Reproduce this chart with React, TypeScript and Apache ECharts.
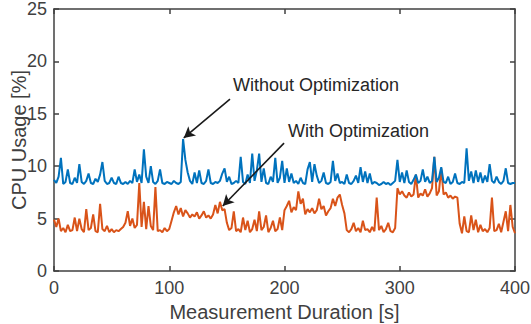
import React, { useEffect, useRef } from "react";
import * as echarts from "echarts";

const STEP_S = 2;

const withoutOpt: number[] = [
  8.7, 8.4, 9.0, 10.8, 8.3, 8.5, 9.7, 8.4, 8.3, 8.9,
  8.4, 10.2, 8.5, 8.3, 8.6, 9.3, 8.4, 8.3, 8.8, 8.5,
  9.2, 10.4, 8.6, 8.3, 8.4, 8.9, 8.4, 8.3, 9.0, 8.4,
  8.3, 8.5, 8.3, 8.6, 8.4, 9.7, 8.5, 9.2, 8.4, 11.6,
  9.0, 8.4, 10.0, 8.5, 8.3, 8.6, 9.7, 8.4, 8.3, 8.5,
  8.4, 8.3, 8.6, 8.4, 8.3, 8.5, 12.6, 10.6, 9.4, 8.6,
  8.3, 9.4, 8.4, 9.6, 8.4, 8.3, 8.6, 9.7, 8.4, 8.3,
  8.5, 8.4, 8.6, 9.3, 9.8, 8.5, 9.0, 8.3, 8.4, 8.6,
  8.4, 10.9, 8.5, 8.3, 9.2, 8.4, 11.2, 8.6, 9.6, 11.2,
  8.5, 9.8, 8.4, 8.3, 9.0, 8.5, 10.8, 8.4, 8.9, 10.5,
  8.4, 9.8, 8.5, 9.3, 8.4, 8.6, 8.3, 8.9, 8.4, 8.3,
  9.7, 10.4, 8.5, 10.2, 9.1, 8.4, 8.6, 9.4, 8.4, 8.3,
  8.5, 10.5, 8.6, 9.3, 8.4, 8.5, 8.3, 9.2, 8.4, 8.3,
  8.6, 9.1, 8.4, 9.9, 8.5, 9.5, 8.4, 9.3, 8.3, 8.5,
  8.4, 8.2, 8.3, 8.5, 8.3, 8.4, 8.2, 8.4, 8.6, 10.6,
  8.5, 9.4, 8.4, 9.6, 8.5, 8.3, 8.7, 9.2, 8.4, 8.6,
  9.7, 8.5, 9.0, 8.4, 8.6, 10.9, 8.5, 8.9, 9.9, 8.5,
  8.4, 9.0, 8.3, 8.5, 9.3, 8.4, 8.3, 8.5, 8.4, 11.7,
  8.6, 9.5, 8.4, 9.6, 8.5, 9.4, 8.4, 9.1, 8.5, 10.2,
  8.6, 8.4, 9.0, 8.5, 8.3, 8.6, 9.8, 8.4, 8.3, 8.4,
  8.4,
];

const withOpt: number[] = [
  4.9, 4.2, 5.0, 3.8, 4.1, 3.7, 4.4, 3.8, 3.9, 5.1,
  3.8, 5.0, 4.0, 3.7, 5.9, 3.9, 4.1, 5.4, 3.8, 3.7,
  6.4, 4.0, 3.8, 4.3, 3.7, 4.0, 3.7, 3.9, 3.8, 4.0,
  4.2, 4.6, 5.7, 4.3, 5.0, 4.1, 4.4, 8.4, 4.2, 6.6,
  4.0, 6.2, 4.3, 3.9, 8.0, 3.8, 3.9, 3.7, 4.1, 3.8,
  4.0, 4.8, 5.6, 6.2, 5.4, 6.0, 5.2, 5.8, 5.5, 5.1,
  5.4, 5.2, 5.6, 5.0, 5.3, 5.7, 5.1, 5.3, 5.0, 5.4,
  6.3, 5.5, 6.6, 5.8, 5.9, 4.6, 3.9, 4.1, 5.7, 3.8,
  4.0, 3.7, 5.1, 3.9, 4.8, 3.7, 4.0, 4.9, 3.8, 5.7,
  3.9, 4.2, 5.3, 3.7, 4.1, 4.8, 3.8, 4.0, 5.1, 3.9,
  5.8, 6.2, 6.7, 5.6, 6.1, 5.8, 7.6, 6.4, 6.9, 5.4,
  5.9, 5.6, 6.0, 5.5, 5.8, 6.9, 5.9, 6.2, 5.3, 5.7,
  6.0, 6.9, 6.2, 7.0, 7.3, 6.3, 5.5, 3.9, 3.7, 4.0,
  4.6, 3.8, 4.1, 3.7, 4.8, 3.9, 4.0, 3.7, 4.2, 3.8,
  7.0, 3.9, 4.3, 3.7, 4.0, 4.6, 3.8, 3.7, 4.1, 7.9,
  7.3, 7.6, 7.2, 7.0, 7.5, 7.1, 7.3, 9.2, 7.0, 7.4,
  7.2, 7.8, 7.1, 7.4, 7.9, 10.9, 7.2, 7.6, 9.8, 7.3,
  7.5, 7.0, 7.2, 6.9, 7.1, 7.0, 4.5, 3.6, 5.2, 3.8,
  3.7, 5.3, 3.9, 4.9, 3.7, 4.4, 3.8, 4.0, 3.7, 4.1,
  7.0, 3.8, 3.9, 4.5, 3.7, 4.7, 5.7, 3.8, 6.3, 4.2,
  3.6,
];

const xTicks = [0, 100, 200, 300, 400];
const yTicks = [0, 5, 10, 15, 20, 25];

const BLUE = "#0072BD";
const ORANGE = "#D95319";
const AX = "#404040";
const FONT = "Liberation Sans, Arial, Helvetica, sans-serif";

export default function App() {
  const ref = useRef<HTMLDivElement>(null);
  useEffect(() => {
    if (!ref.current) return;
    const chart = echarts.init(ref.current, undefined, { renderer: "svg" });
    const toPairs = (arr: number[]) => arr.map((v, i) => [i * STEP_S, v]);
    const axisCommon = {
      type: "value" as const,
      axisLine: { show: true, onZero: false, lineStyle: { color: AX, width: 1.5 } },
      axisTick: { show: true, inside: true, length: 5, lineStyle: { color: AX, width: 1.5 } },
      splitLine: { show: false },
    };
    chart.setOption({
      animation: false,
      grid: {
        left: 54,
        right: 16,
        top: 9,
        bottom: 53,
        containLabel: false,
        outerBoundsMode: "none",
      },
      xAxis: [
        {
          ...axisCommon,
          min: xTicks[0],
          max: xTicks[xTicks.length - 1],
          interval: 100,
          position: "bottom",
          axisLabel: { color: AX, fontSize: 18, fontFamily: FONT, margin: 8 },
          name: "Measurement Duration [s]",
          nameLocation: "middle",
          nameGap: 30,
          nameTextStyle: { color: AX, fontSize: 20, fontFamily: FONT },
        },
        {
          ...axisCommon,
          min: xTicks[0],
          max: xTicks[xTicks.length - 1],
          interval: 100,
          position: "top",
          axisLabel: { show: false },
        },
      ],
      yAxis: [
        {
          ...axisCommon,
          min: yTicks[0],
          max: yTicks[yTicks.length - 1],
          interval: 5,
          position: "left",
          axisLabel: { color: AX, fontSize: 18, lineHeight: 17, fontFamily: FONT, margin: 7 },
        },
        {
          ...axisCommon,
          min: yTicks[0],
          max: yTicks[yTicks.length - 1],
          interval: 5,
          position: "right",
          axisLabel: { show: false },
        },
      ],
      series: [
        {
          type: "line",
          name: "Without Optimization",
          data: toPairs(withoutOpt),
          showSymbol: false,
          symbol: "none",
          lineStyle: { color: BLUE, width: 2 },
          z: 3,
          markLine: {
            silent: true,
            symbol: ["none", "arrow"],
            symbolSize: [9, 11],
            lineStyle: { color: "#1a1a1a", width: 1.6, type: "solid" },
            label: { show: false },
            data: [
              [
                { coord: [152.7, 16.4] },
                { coord: [112.6, 12.7] },
              ],
            ],
          },
        },
        {
          type: "line",
          name: "With Optimization",
          data: toPairs(withOpt),
          showSymbol: false,
          symbol: "none",
          lineStyle: { color: ORANGE, width: 2 },
          z: 2,
          markLine: {
            silent: true,
            symbol: ["none", "arrow"],
            symbolSize: [9, 11],
            lineStyle: { color: "#1a1a1a", width: 1.6, type: "solid" },
            label: { show: false },
            data: [
              [
                { coord: [199.6, 12.2] },
                { coord: [146.4, 6.2] },
              ],
            ],
          },
        },
      ],
      graphic: [
        {
          type: "text",
          x: 19,
          y: 140,
          rotation: Math.PI / 2,
          style: {
            text: "CPU Usage [%]",
            fill: AX,
            fontSize: 20,
            fontFamily: FONT,
            align: "center",
            verticalAlign: "middle",
          },
        },
        {
          type: "text",
          left: 233,
          top: 76,
          style: { text: "Without Optimization", fill: "#262626", fontSize: 18, fontFamily: FONT },
        },
        {
          type: "text",
          left: 288,
          top: 122,
          style: { text: "With Optimization", fill: "#262626", fontSize: 18, fontFamily: FONT },
        },
      ],
    });
    return () => chart.dispose();
  }, []);
  return <div ref={ref} style={{ width: 531, height: 324, position: "absolute", left: 0, top: 0 }} />;
}
